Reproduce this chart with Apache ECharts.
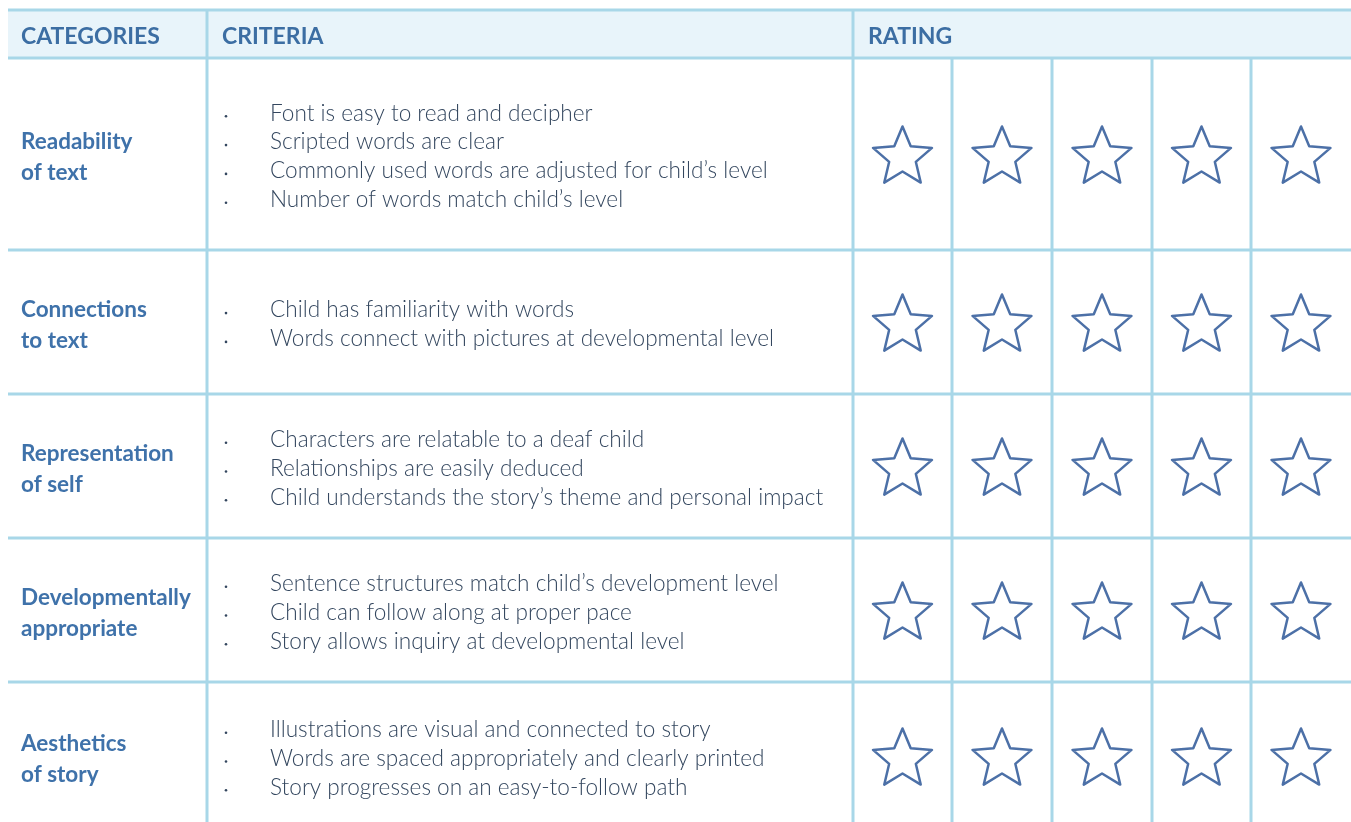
<!DOCTYPE html>
<html>
<head>
<meta charset="utf-8">
<script src="https://cdn.jsdelivr.net/npm/echarts@6/dist/echarts.min.js"></script>
<style>
  html, body { margin: 0; padding: 0; background: #ffffff; }
  #chart { width: 1351px; height: 822px; }
</style>
</head>
<body>
<div id="chart"></div>
<script>
// ---------- DATA ----------
const headers = ['CATEGORIES', 'CRITERIA', 'RATING'];
const categories = [
  'Readability\nof text',
  'Connections\nto text',
  'Representation\nof self',
  'Developmentally\nappropriate',
  'Aesthetics\nof story'
];
const criteria1 = [
  'Font is easy to read and decipher',
  'Scripted words are clear',
  'Commonly used words are adjusted for child\u2019s level',
  'Number of words match child\u2019s level'
];
const criteria2 = [
  'Child has familiarity with words',
  'Words connect with pictures at developmental level'
];
const criteria3 = [
  'Characters are relatable to a deaf child',
  'Relationships are easily deduced',
  'Child understands the story\u2019s theme and personal impact'
];
const criteria4 = [
  'Sentence structures match child\u2019s development level',
  'Child can follow along at proper pace',
  'Story allows inquiry at developmental level'
];
const criteria5 = [
  'Illustrations are visual and connected to story',
  'Words are spaced appropriately and clearly printed',
  'Story progresses on an easy-to-follow path'
];
const ratingScale = [1, 2, 3, 4, 5];

// ---------- LAYOUT (not data) ----------
const W = 1351, H = 822;
const criteriaList = [criteria1, criteria2, criteria3, criteria4, criteria5];
const colEdges = [8, 207, 853, 952, 1052, 1152, 1251, 1351];
const rowEdges = [10, 58, 250, 394, 538, 682, 830];
const LINE = '#a8d7e8';
const HEAD_BG = '#e8f4fa';
const HEAD_TXT = '#3c6ea3';
const CAT_TXT = '#3f72aa';
const CRIT_TXT = '#34475f';
const STAR = '#4c70a7';

function starPoints(cx, cy, R, r) {
  const pts = [];
  for (let i = 0; i < 10; i++) {
    const ang = -Math.PI / 2 + i * Math.PI / 5;
    const rad = i % 2 === 0 ? R : r;
    pts.push([cx + rad * Math.cos(ang), cy + rad * Math.sin(ang)]);
  }
  return pts;
}

function renderTable(params, api) {
  const c = (x, y) => api.coord([x, y]);
  const children = [];
  // header background
  const hb0 = c(colEdges[0], rowEdges[0]);
  const hb1 = c(colEdges[colEdges.length - 1], rowEdges[1]);
  children.push({ type: 'rect', shape: { x: hb0[0], y: hb0[1], width: hb1[0] - hb0[0], height: hb1[1] - hb0[1] }, style: { fill: HEAD_BG } });
  // header texts
  const headerCols = [0, 1, 2];
  headerCols.forEach((ci, k) => {
    const p = c(colEdges[ci] + (k === 0 ? 13 : 15), (rowEdges[0] + rowEdges[1]) / 2 + 2.5);
    children.push({ type: 'text', style: { x: p[0], y: p[1], text: headers[k], fill: HEAD_TXT, font: 'bold 23px Lato', textAlign: 'left', textVerticalAlign: 'middle' } });
  });
  // body rows
  categories.forEach((cat, i) => {
    const top = rowEdges[i + 1], bot = rowEdges[i + 2];
    const mid = (top + bot) / 2;
    const cp = c(colEdges[0] + 13, mid + 3);
    children.push({ type: 'text', style: { x: cp[0], y: cp[1], text: cat, fill: CAT_TXT, font: 'bold 22.5px Lato', lineHeight: 31, textAlign: 'left', textVerticalAlign: 'middle' } });
    const items = criteriaList[i];
    const n = items.length;
    items.forEach((t, k) => {
      const yy = mid + 2.5 + (k - (n - 1) / 2) * 28.8;
      const bp = c(colEdges[1] + 19, yy + 3);
      children.push({ type: 'circle', shape: { cx: bp[0], cy: bp[1], r: 1.3 }, style: { fill: CRIT_TXT } });
      const tp = c(colEdges[1] + 63, yy);
      children.push({ type: 'text', style: { x: tp[0], y: tp[1], text: t, fill: CRIT_TXT, font: '300 22.6px Lato', textAlign: 'left', textVerticalAlign: 'middle' } });
    });
    ratingScale.forEach((v, j) => {
      const cx = (colEdges[2 + j] + colEdges[3 + j]) / 2;
      const sp = c(cx, mid + 3.5);
      children.push({ type: 'polygon', shape: { points: starPoints(sp[0], sp[1], 31, 14) }, style: { fill: 'none', stroke: STAR, lineWidth: 2.5, lineJoin: 'round' } });
    });
  });
  // horizontal lines
  rowEdges.forEach((y) => {
    const a = c(colEdges[0], y), b = c(colEdges[colEdges.length - 1], y);
    children.push({ type: 'line', shape: { x1: a[0], y1: a[1], x2: b[0], y2: b[1] }, style: { stroke: LINE, lineWidth: 3 } });
  });
  // vertical lines
  colEdges.slice(1, colEdges.length - 1).forEach((x, k) => {
    const y0 = k < 2 ? rowEdges[0] : rowEdges[1];
    const a = c(x, y0), b = c(x, H);
    children.push({ type: 'line', shape: { x1: a[0], y1: a[1], x2: b[0], y2: b[1] }, style: { stroke: LINE, lineWidth: 3 } });
  });
  return { type: 'group', children };
}

const chart = echarts.init(document.getElementById('chart'), null, { renderer: 'canvas' });
chart.setOption({
  animation: false,
  backgroundColor: '#ffffff',
  grid: { left: 0, right: 0, top: 0, bottom: 0 },
  xAxis: { type: 'value', min: 0, max: W, show: false },
  yAxis: { type: 'value', min: 0, max: H, inverse: true, show: false },
  series: [{
    type: 'custom',
    renderItem: renderTable,
    data: [[0, 0]],
    clip: false,
    silent: true
  }]
});
</script>
</body>
</html>
